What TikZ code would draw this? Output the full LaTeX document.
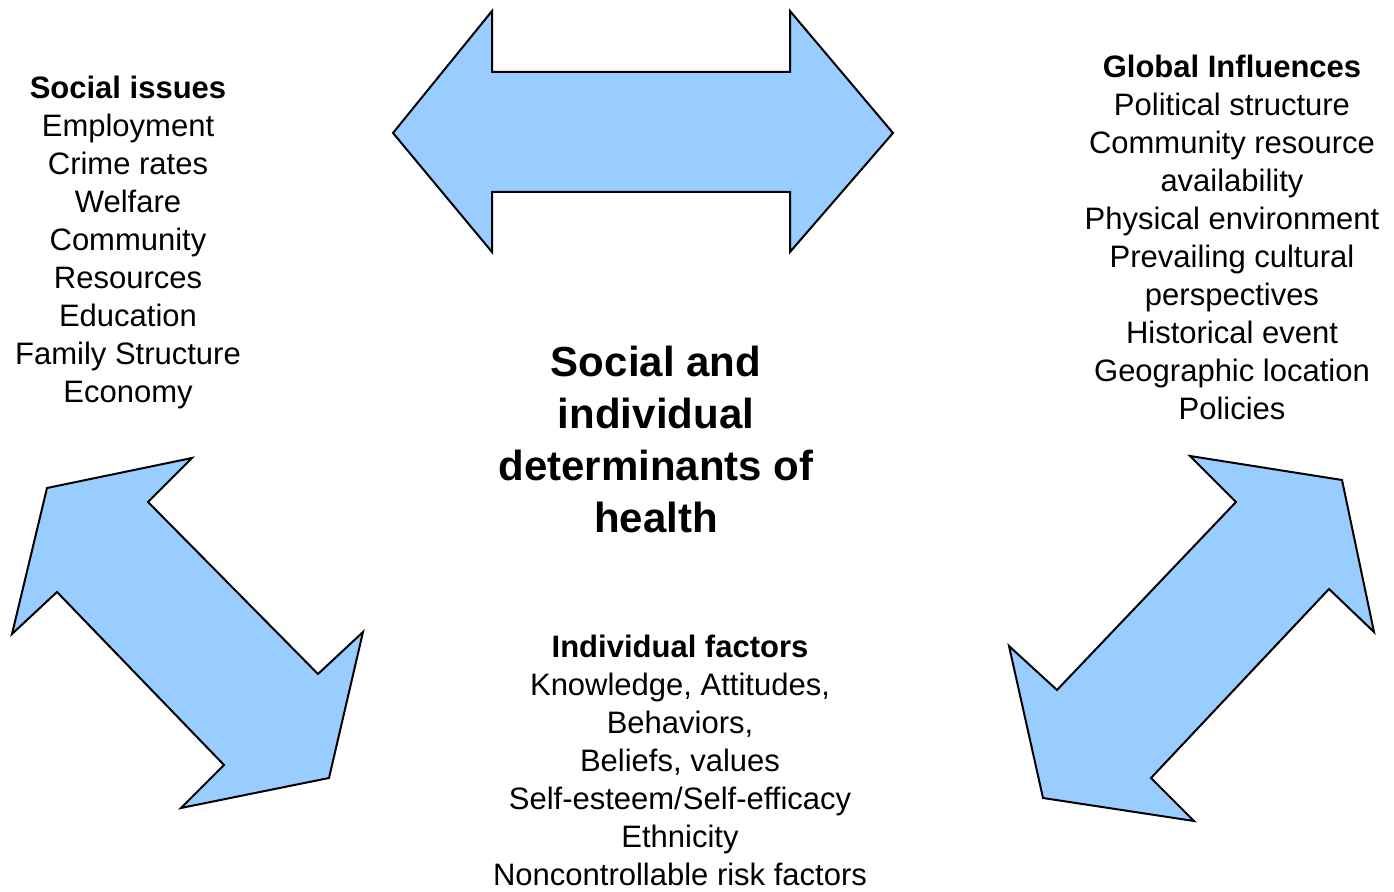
\documentclass[tikz,border=0pt]{standalone}
\usepackage{fontspec}
\setmainfont{Liberation Sans}
\definecolor{arrowblue}{HTML}{99CCFF}

\begin{document}
\begin{tikzpicture}[x=0.5pt,y=-0.5pt,
	bigarrow/.style={draw=black,line width=1pt,fill=arrowblue,line join=miter},
	list/.style={align=center,inner sep=0pt,font=\fontsize{15.5}{19}\selectfont},
	title/.style={align=center,inner sep=0pt,font=\fontsize{21}{26}\selectfont\bfseries}]
	\useasboundingbox (0,0) rectangle (1394,892);

	% double arrows
	\draw[bigarrow] (393,133) -- (492,11) -- (492,72) -- (790,72) -- (790,11) -- (893,133)
		-- (790,252) -- (790,192) -- (492,192) -- (492,252) -- cycle;
	\draw[bigarrow] (47,488) -- (192,458) -- (148,502) -- (318,674) -- (363,632) -- (329,778)
		-- (181,808) -- (224,765) -- (57,592) -- (12,634) -- cycle;
	\draw[bigarrow] (1190,456) -- (1342,480) -- (1374,632) -- (1329,589) -- (1151,778) -- (1194,821)
		-- (1043,798) -- (1009,646) -- (1057,690) -- (1236,502) -- cycle;

	\node[title] (health) at (656,439) {Social and\\individual\\determinants of\\health};

	\node[list] (social) at (128,242) {\textbf{Social issues}\\Employment\\Crime rates\\Welfare\\
		Community\\Resources\\Education\\Family Structure\\Economy};
	\node[list] (global) at (1232,237) {\textbf{Global Influences}\\Political structure\\
		Community resource\\availability\\Physical environment\\Prevailing cultural\\
		perspectives\\Historical event\\Geographic location\\Policies};
	\node[list] (individual) at (680,760) {\textbf{Individual factors}\\Knowledge, Attitudes,\\
		Behaviors,\\Beliefs, values\\Self-esteem/Self-efficacy\\Ethnicity\\Noncontrollable risk factors};
\end{tikzpicture}
\end{document}
